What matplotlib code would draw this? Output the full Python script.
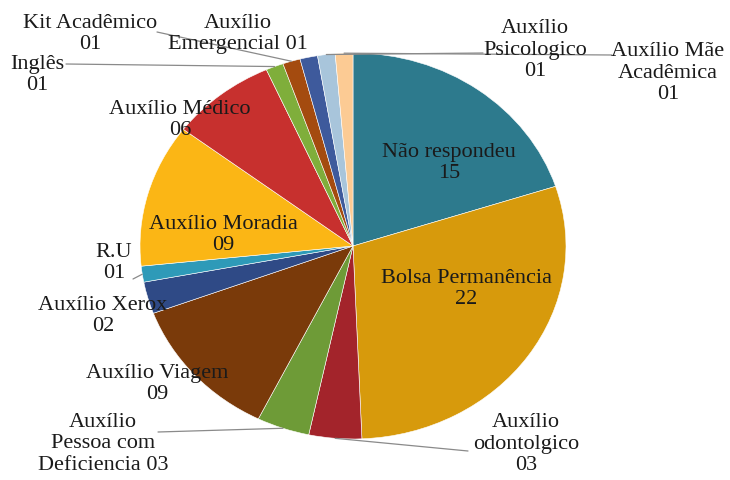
import matplotlib.pyplot as plt
import numpy as np

# auxílios recebidos (sentido horário a partir do topo)
nomes = ['Não respondeu', 'Bolsa Permanência', 'Auxílio\nodontolgico',
         'Auxílio\nPessoa com\nDeficiencia', 'Auxílio Viagem', 'Auxílio Xerox',
         'R.U', 'Auxílio Moradia', 'Auxílio Médico', 'Inglês', 'Kit Acadêmico',
         'Auxílio\nEmergencial', 'Auxílio\nPsicologico', 'Auxílio Mãe\nAcadêmica']
valores = [15, 22, 3, 3, 9, 2, 1, 9, 6, 1, 1, 1, 1, 1]
separador = ['\n', '\n', '\n', ' ', '\n', '\n', '\n', '\n', '\n', '\n', '\n', ' ', '\n', '\n']

cores = ['#2D7A8D', '#D79A0C', '#A3242B', '#6E9B37', '#7A3A0A', '#2F4A86',
         '#2E9AB8', '#FBB615', '#C7302E', '#7FAE3B', '#A44B0F', '#3E5A9C',
         '#A8C5DB', '#FCCB94']

# posição dos rótulos (pixels, origem no canto superior esquerdo)
pos_rotulo = [(449, 163), (466, 289), (526, 444), (103, 444), (157, 384),
              (103, 316), (114, 263), (223, 235), (180, 120), (37, 75),
              (90, 34), (238, 34), (535, 50), (668, 73)]
# início das linhas de chamada (None = sem linha)
inicio_linha = [None, None, (468, 451), (158, 432), None, None, (133, 279),
                None, None, (66, 64), (157, 32), None, (483, 53), (612, 55)]

W, H = 730, 480
CX, CY, RX, RY = 353, 246, 213, 193

fig = plt.figure(figsize=(W / 100, H / 100), dpi=100)
ax = fig.add_axes([0, 0, 1, 1])
wedges, _ = ax.pie(valores, colors=cores, startangle=90, counterclock=False,
                   radius=1, wedgeprops=dict(edgecolor='white', linewidth=0.4))
ax.set_aspect('auto')
ax.set_xlim(-CX / RX, (W - CX) / RX)
ax.set_ylim(-(H - CY) / RY, CY / RY)
ax.axis('off')

for i, w in enumerate(wedges):
    texto = f'{nomes[i]}{separador[i]}{valores[i]:02d}'
    px, py = pos_rotulo[i]
    fig.text(px / W, 1 - py / H, texto, ha='center', va='center', ma='center',
             fontsize=16, family='Liberation Serif', color='#1a1a1a',
             linespacing=1.15)
    if inicio_linha[i] is not None:
        ang = np.deg2rad((w.theta1 + w.theta2) / 2)
        sx, sy = inicio_linha[i]
        ax.annotate('', xy=(np.cos(ang), np.sin(ang)), xycoords='data',
                    xytext=(sx, H - sy), textcoords='figure pixels',
                    arrowprops=dict(arrowstyle='-', color='#8a8a8a', lw=0.9,
                                    shrinkA=0, shrinkB=0))

fig.savefig('out.png', dpi=100)
